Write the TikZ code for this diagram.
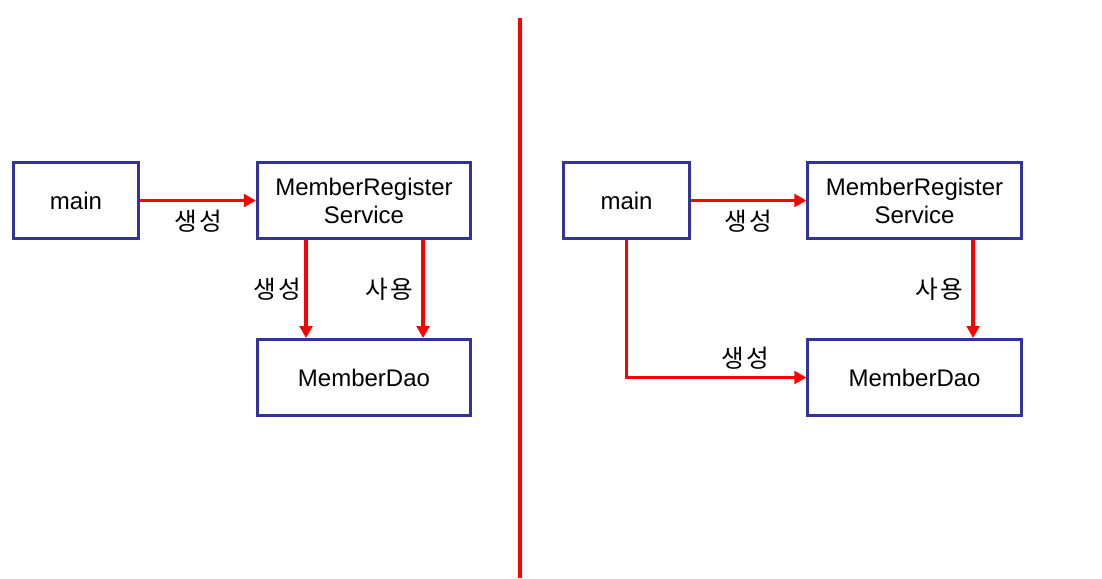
\documentclass[tikz,border=0pt]{standalone}
\usepackage{fontspec}
\setmainfont{Liberation Sans}
\newfontfamily\krfont[LetterSpace=10]{Noto Sans CJK KR}
\usepackage{tikz}
\usetikzlibrary{calc, arrows.meta, positioning}
\tikzset{>={Triangle[length=9pt, width=9.5pt]}}
\definecolor{myblue}{RGB}{51, 51, 153}
\definecolor{myred}{RGB}{255, 0, 0}
\tikzset{
  box/.style = {draw = myblue, line width = 2.25pt, fill = white, align = center,
    minimum height = 57pt, inner sep = 0pt, font = \fontsize{18}{21}\selectfont},
  arr/.style = {->, draw = myred, line width = 2.8pt},
  kr/.style = {font = \krfont\fontsize{18.5}{22}\selectfont, inner sep = 4pt}
}

\begin{document}
\begin{tikzpicture}[x = 0.75pt, y = -0.75pt]

\useasboundingbox (0, 0) rectangle (1102, 578); % same size as the page

\draw[myred, line width = 3pt] (520, 18) -- (520, 578);

\begin{scope}
\node[box, minimum width = 94pt] (lmain) at (76, 200.5) {main};
\node[box, minimum width = 160pt] (lsvc) at (364, 200.5) {MemberRegister\\Service};
\node[box, minimum width = 160pt] (ldao) at (364, 377.5) {MemberDao};
\draw[arr] (lmain) -- (lsvc) node[kr, midway, below, inner sep = 6pt] {생성};
\draw[arr] ([xshift = -43.5pt]lsvc.south) -- ([xshift = -43.5pt]ldao.north) node[kr, midway, left, inner sep = 2pt] {생성};
\draw[arr] ([xshift = 44.25pt]lsvc.south) -- ([xshift = 44.25pt]ldao.north) node[kr, midway, left, inner sep = 6pt] {사용};
\end{scope}

\begin{scope}[xshift = 412.9pt]
\node[box, minimum width = 94pt] (rmain) at (76, 200.5) {main};
\node[box, minimum width = 160pt] (rsvc) at (364, 200.5) {MemberRegister\\Service};
\node[box, minimum width = 160pt] (rdao) at (364, 377.5) {MemberDao};
\draw[arr] (rmain) -- (rsvc) node[kr, midway, below, inner sep = 6pt] {생성};
\draw[arr] ([xshift = 43.9pt]rsvc.south) -- ([xshift = 43.9pt]rdao.north) node[kr, midway, left, inner sep = 6pt] {사용};
\draw[arr] (rmain.south) |- (rdao.west) node[kr, pos = 0.83, above, inner sep = 5pt] {생성};
\end{scope}

\end{tikzpicture}
\end{document}
